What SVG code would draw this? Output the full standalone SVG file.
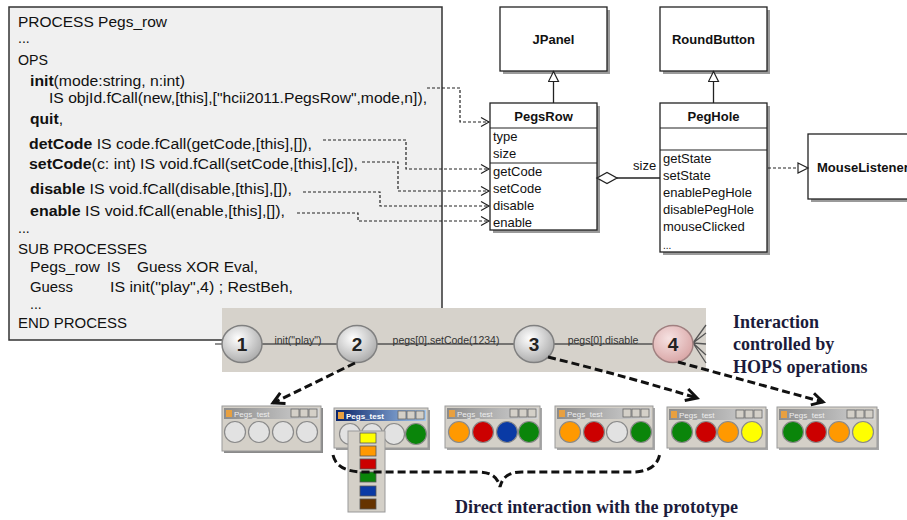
<svg xmlns="http://www.w3.org/2000/svg" width="907" height="520" viewBox="0 0 907 520">
<defs>
<style>
.code{font-family:"Liberation Sans",Arial,sans-serif;font-size:14px;fill:#111}
.b{font-weight:bold}
.uml{font-family:"Liberation Sans",Arial,sans-serif;font-size:13px;fill:#111}
.ub{font-weight:bold}
.box{fill:#fff;stroke:#222;stroke-width:1.3}
.shd{fill:#9a9a9a}
.div{stroke:#222;stroke-width:1.2}
.dep{fill:none;stroke:#222;stroke-width:1.2;stroke-dasharray:3 2}
.big{fill:none;stroke:#111;stroke-width:3;stroke-dasharray:8 4}
.note{font-family:"Liberation Serif","Times New Roman",serif;font-weight:bold;font-size:18px;fill:#1b1b3b}
.edge{stroke:#555;stroke-width:1.3;fill:none}
.lbl{font-family:"Liberation Sans",Arial,sans-serif;font-size:10.5px;fill:#333}
.num{font-family:"Liberation Sans",Arial,sans-serif;font-size:19px;font-weight:bold;fill:#222}
.st{fill:url(#gGray);stroke:#808080;stroke-width:1.5}
.frame{fill:#d4d0c8;stroke:#9a9a9a;stroke-width:1}
.tb{fill:url(#gTitle)}
.tt{font-family:"Liberation Sans",Arial,sans-serif;font-size:8px;fill:#eeeeee}
.btn{fill:#d4d0c8;stroke:#666;stroke-width:0.8}
.pg{stroke:#8a8a8a;stroke-width:1.2}
.light{fill:#e2e2e2}
.green{fill:#0a850a}
.red{fill:#cc0000}
.orange{fill:#ff9900}
.yellow{fill:#ffff00}
.blue{fill:#0a3aa5}
.sw{stroke:#555;stroke-width:0.8}
</style>
<radialGradient id="gGray" cx="40%" cy="35%" r="70%">
<stop offset="0" stop-color="#ffffff"/>
<stop offset="1" stop-color="#a8a8a8"/>
</radialGradient>
<radialGradient id="gPink" cx="40%" cy="35%" r="70%">
<stop offset="0" stop-color="#f6e2e2"/>
<stop offset="1" stop-color="#d8a4a4"/>
</radialGradient>
<linearGradient id="gTitle" x1="0" y1="0" x2="1" y2="0">
<stop offset="0" stop-color="#8c8c8c"/>
<stop offset="1" stop-color="#d6d6d6"/>
</linearGradient>
<linearGradient id="gActive" x1="0" y1="0" x2="1" y2="0">
<stop offset="0" stop-color="#0a246a"/>
<stop offset="1" stop-color="#a6caf0"/>
</linearGradient>
<marker id="open" markerUnits="userSpaceOnUse" markerWidth="12" markerHeight="12" refX="9" refY="5" orient="auto">
<path d="M1,0.5 L9,5 L1,9.5" fill="none" stroke="#222" stroke-width="1.2"/>
</marker>
<marker id="tri" markerUnits="userSpaceOnUse" markerWidth="14" markerHeight="14" refX="11" refY="6" orient="auto">
<path d="M1,1 L11,6 L1,11 Z" fill="#fff" stroke="#222" stroke-width="1.2"/>
</marker>
<marker id="bigV" markerUnits="userSpaceOnUse" markerWidth="18" markerHeight="18" refX="13" refY="8" orient="auto">
<path d="M2,2 L13,8 L2,14" fill="none" stroke="#111" stroke-width="3"/>
</marker>
</defs>

<rect width="907" height="520" fill="#ffffff"/>

<g id="code">
<rect x="9" y="7" width="433" height="333" fill="#f0f0f0" stroke="#333" stroke-width="1.5"/>
<text class="code" x="18" y="27" textLength="149" lengthAdjust="spacingAndGlyphs">PROCESS Pegs_row</text>
<text class="code" x="18" y="43">...</text>
<text class="code" x="18" y="65" textLength="30" lengthAdjust="spacingAndGlyphs">OPS</text>
<text class="code" x="30" y="86" textLength="155" lengthAdjust="spacingAndGlyphs"><tspan class="b">init</tspan>(mode:string, n:int)</text>
<text class="code" x="49" y="103" textLength="378" lengthAdjust="spacingAndGlyphs">IS objId.fCall(new,[this],["hcii2011.PegsRow",mode,n]),</text>
<text class="code" x="30" y="124" textLength="33" lengthAdjust="spacingAndGlyphs"><tspan class="b">quit</tspan>,</text>
<text class="code" x="29" y="149" textLength="283" lengthAdjust="spacingAndGlyphs"><tspan class="b">detCode</tspan> IS code.fCall(getCode,[this],[]),</text>
<text class="code" x="29" y="169" textLength="329" lengthAdjust="spacingAndGlyphs"><tspan class="b">setCode</tspan>(c: int) IS void.fCall(setCode,[this],[c]),</text>
<text class="code" x="30" y="194" textLength="262" lengthAdjust="spacingAndGlyphs"><tspan class="b">disable</tspan> IS void.fCall(disable,[this],[]),</text>
<text class="code" x="30" y="216" textLength="255" lengthAdjust="spacingAndGlyphs"><tspan class="b">enable</tspan> IS void.fCall(enable,[this],[]),</text>
<text class="code" x="18" y="233">...</text>
<text class="code" x="18" y="254" textLength="129" lengthAdjust="spacingAndGlyphs">SUB PROCESSES</text>
<text class="code" x="30" y="272" textLength="70" lengthAdjust="spacingAndGlyphs">Pegs_row</text>
<text class="code" x="107" y="272">IS</text>
<text class="code" x="137" y="272" textLength="121" lengthAdjust="spacingAndGlyphs">Guess XOR Eval,</text>
<text class="code" x="30" y="292" textLength="43" lengthAdjust="spacingAndGlyphs">Guess</text>
<text class="code" x="110" y="292" textLength="183" lengthAdjust="spacingAndGlyphs">IS  init("play",4) ; RestBeh,</text>
<text class="code" x="30" y="309">...</text>
<text class="code" x="18" y="328" textLength="109" lengthAdjust="spacingAndGlyphs">END PROCESS</text>
</g>

<g id="JPanel">
<rect class="shd" x="503" y="10" width="107" height="64"/>
<rect class="box" x="500" y="7" width="107" height="64"/>
<text class="uml ub" x="553.5" y="44" text-anchor="middle">JPanel</text>
</g>
<g id="RoundButton">
<rect class="shd" x="663" y="10" width="107" height="64"/>
<rect class="box" x="660" y="7" width="107" height="64"/>
<text class="uml ub" x="713.5" y="44" text-anchor="middle">RoundButton</text>
</g>
<g id="PegsRow">
<rect class="shd" x="493" y="106" width="107" height="127"/>
<rect class="box" x="490" y="103" width="107" height="127"/>
<line class="div" x1="490" y1="128" x2="597" y2="128"/>
<line class="div" x1="490" y1="163" x2="597" y2="163"/>
<text class="uml ub" x="543.5" y="121" text-anchor="middle">PegsRow</text>
<text class="uml" x="493" y="141">type</text>
<text class="uml" x="493" y="158">size</text>
<text class="uml" x="493" y="176">getCode</text>
<text class="uml" x="493" y="193">setCode</text>
<text class="uml" x="493" y="210">disable</text>
<text class="uml" x="493" y="227">enable</text>
</g>
<g id="PegHole">
<rect class="shd" x="663" y="106" width="107" height="149"/>
<rect class="box" x="660" y="103" width="107" height="149"/>
<line class="div" x1="660" y1="128" x2="767" y2="128"/>
<line class="div" x1="660" y1="150" x2="767" y2="150"/>
<text class="uml ub" x="713.5" y="121" text-anchor="middle">PegHole</text>
<text class="uml" x="663" y="163">getState</text>
<text class="uml" x="663" y="180">setState</text>
<text class="uml" x="663" y="197">enablePegHole</text>
<text class="uml" x="663" y="214">disablePegHole</text>
<text class="uml" x="663" y="231">mouseClicked</text>
<text class="uml" x="663" y="249" style="font-size:10px">...</text>
</g>
<g id="MouseListener">
<rect class="shd" x="811" y="137" width="110" height="65"/>
<rect class="box" x="808" y="134" width="110" height="65"/>
<text class="uml ub" x="817" y="172">MouseListener</text>
</g>

<g id="uml-connectors">
<line x1="553.5" y1="103" x2="553.5" y2="71.5" stroke="#222" stroke-width="1.3" marker-end="url(#tri)"/>
<line x1="713.5" y1="103" x2="713.5" y2="71.5" stroke="#222" stroke-width="1.3" marker-end="url(#tri)"/>
<line x1="617" y1="178" x2="660" y2="178" stroke="#222" stroke-width="1.3"/>
<path d="M597,178 L607,172.5 L617,178 L607,183.5 Z" fill="#fff" stroke="#222" stroke-width="1.3"/>
<text class="uml" x="633" y="170">size</text>
<path d="M768,168 L808,168" class="dep" stroke-dasharray="4 3" marker-end="url(#tri)"/>
</g>

<g id="code-connectors">
<path class="dep" d="M427,88 H460 V122 H489" marker-end="url(#open)"/>
<path class="dep" d="M323,140 H406 V169 H489" marker-end="url(#open)"/>
<path class="dep" d="M362,162 H398 V191 H489" marker-end="url(#open)"/>
<path class="dep" d="M303,192 H380 V206 H489" marker-end="url(#open)"/>
<path class="dep" d="M297,213 H358 V221 H489" marker-end="url(#open)"/>
</g>

<g id="statebar">
<rect x="222" y="308" width="484" height="64" fill="#d6d2cb"/>
</g>
<g id="state-edges">
<line class="edge" x1="215" y1="344" x2="222" y2="344"/>
<line class="edge" x1="262" y1="344" x2="337" y2="344"/>
<line class="edge" x1="377" y1="344" x2="514" y2="344"/>
<line class="edge" x1="554" y1="344" x2="653" y2="344"/>
<path class="edge" d="M693,343 L706,325 M693,343 L706,333 M693,343 L706,344 M693,343 L706,355 M693,343 L706,363"/>
<text class="lbl" x="298" y="344" text-anchor="middle">init("play")</text>
<text class="lbl" x="446" y="344" text-anchor="middle">pegs[0].setCode(1234)</text>
<text class="lbl" x="603" y="344" text-anchor="middle">pegs[0].disable</text>
</g>
<g id="s1"><ellipse class="st" cx="242" cy="344" rx="20" ry="18.5"/><text class="num" x="242" y="351" text-anchor="middle">1</text></g>
<g id="s2"><ellipse class="st" cx="357" cy="344" rx="20" ry="18.5"/><text class="num" x="357" y="351" text-anchor="middle">2</text></g>
<g id="s3"><ellipse class="st" cx="534" cy="344" rx="20" ry="18.5"/><text class="num" x="534" y="351" text-anchor="middle">3</text></g>
<g id="s4"><ellipse cx="673" cy="344" rx="20" ry="18.5" fill="url(#gPink)" stroke="#a08080" stroke-width="1.5"/><text class="num" x="673" y="351" text-anchor="middle">4</text></g>

<g id="note-hops">
<text class="note" x="733" y="328">Interaction</text>
<text class="note" x="733" y="350">controlled by</text>
<text class="note" x="733" y="373">HOPS operations</text>
</g>

<g id="win1" transform="translate(222,406)">
<rect x="2" y="2" width="99" height="45" fill="#8a8a8a"/>
<rect class="frame" x="0" y="0" width="99" height="45"/>
<rect class="tb" x="2" y="2" width="95" height="11"/>
<rect x="4" y="4" width="6" height="7" fill="#e8a040"/>
<text class="tt" x="12" y="10.5">Pegs_test</text>
<rect class="btn" x="69" y="3" width="8" height="8"/><rect class="btn" x="78" y="3" width="8" height="8"/><rect class="btn" x="87" y="3" width="8" height="8"/>
<circle class="pg light" cx="13" cy="26" r="10.5"/><circle class="pg light" cx="37" cy="26" r="10.5"/><circle class="pg light" cx="61" cy="26" r="10.5"/><circle class="pg light" cx="85" cy="26" r="10.5"/>
</g>
<g id="win2" transform="translate(334,408)">
<rect x="2" y="2" width="94" height="40" fill="#9a9a9a"/>
<rect class="frame" x="0" y="0" width="94" height="40"/>
<rect x="2" y="2" width="90" height="11" fill="url(#gActive)"/>
<rect x="4" y="4" width="6" height="7" fill="#e8a040"/>
<text class="tt" x="12" y="10.5" style="fill:#fff;font-weight:bold">Pegs_test</text>
<rect class="btn" x="64" y="3" width="8" height="8"/><rect class="btn" x="73" y="3" width="8" height="8"/><rect class="btn" x="82" y="3" width="8" height="8"/>
<circle class="pg light" cx="16" cy="26" r="10.5"/><circle class="pg light" cx="38" cy="26" r="10.5"/><circle class="pg light" cx="60" cy="26" r="10.5"/><circle class="pg green" cx="82" cy="26" r="10.5"/>
</g>
<g id="popup">
<rect x="348" y="431" width="37" height="81" fill="#d4d0c8" stroke="#999" stroke-width="1"/>
<rect class="sw yellow" x="360" y="433" width="16" height="10"/>
<rect class="sw orange" x="360" y="446" width="16" height="10"/>
<rect class="sw red" x="360" y="459" width="16" height="10"/>
<rect class="sw green" x="360" y="472" width="16" height="10"/>
<rect class="sw blue" x="360" y="486" width="16" height="10"/>
<rect class="sw" x="360" y="499" width="16" height="10" fill="#663300"/>
</g>
<g id="win3" transform="translate(445,406)">
<rect x="2" y="2" width="95" height="42" fill="#a8a8a8"/>
<rect class="frame" x="0" y="0" width="95" height="42"/>
<rect class="tb" x="2" y="2" width="91" height="11"/>
<rect x="4" y="4" width="6" height="7" fill="#e8a040"/>
<text class="tt" x="12" y="10.5">Pegs_test</text>
<rect class="btn" x="65" y="3" width="8" height="8"/><rect class="btn" x="74" y="3" width="8" height="8"/><rect class="btn" x="83" y="3" width="8" height="8"/>
<circle class="pg orange" cx="14" cy="26" r="10.5"/><circle class="pg red" cx="38" cy="26" r="10.5"/><circle class="pg blue" cx="62" cy="26" r="10.5"/><circle class="pg green" cx="84" cy="26" r="10.5"/>
</g>
<g id="win4" transform="translate(555,406)">
<rect x="2" y="2" width="98" height="42" fill="#a8a8a8"/>
<rect class="frame" x="0" y="0" width="98" height="42"/>
<rect class="tb" x="2" y="2" width="94" height="11"/>
<rect x="4" y="4" width="6" height="7" fill="#e8a040"/>
<text class="tt" x="12" y="10.5">Pegs_test</text>
<rect class="btn" x="68" y="3" width="8" height="8"/><rect class="btn" x="77" y="3" width="8" height="8"/><rect class="btn" x="86" y="3" width="8" height="8"/>
<circle class="pg orange" cx="15" cy="26" r="10.5"/><circle class="pg red" cx="39" cy="26" r="10.5"/><circle class="pg light" cx="62" cy="26" r="10.5"/><circle class="pg green" cx="86" cy="26" r="10.5"/>
</g>
<g id="win5" transform="translate(667,407)">
<rect x="2" y="2" width="99" height="41" fill="#a8a8a8"/>
<rect class="frame" x="0" y="0" width="99" height="41"/>
<rect class="tb" x="2" y="2" width="95" height="11"/>
<rect x="4" y="4" width="6" height="7" fill="#e8a040"/>
<text class="tt" x="12" y="10.5">Pegs_test</text>
<rect class="btn" x="69" y="3" width="8" height="8"/><rect class="btn" x="78" y="3" width="8" height="8"/><rect class="btn" x="87" y="3" width="8" height="8"/>
<circle class="pg green" cx="15" cy="25" r="10.5"/><circle class="pg red" cx="39" cy="25" r="10.5"/><circle class="pg orange" cx="61" cy="25" r="10.5"/><circle class="pg yellow" cx="85" cy="25" r="10.5"/>
</g>
<g id="win6" transform="translate(777,407)">
<rect x="2" y="2" width="100" height="41" fill="#a8a8a8"/>
<rect class="frame" x="0" y="0" width="100" height="41"/>
<rect class="tb" x="2" y="2" width="96" height="11"/>
<rect x="4" y="4" width="6" height="7" fill="#e8a040"/>
<text class="tt" x="12" y="10.5">Pegs_test</text>
<rect class="btn" x="70" y="3" width="8" height="8"/><rect class="btn" x="79" y="3" width="8" height="8"/><rect class="btn" x="88" y="3" width="8" height="8"/>
<circle class="pg green" cx="16" cy="25" r="10.5"/><circle class="pg red" cx="39" cy="25" r="10.5"/><circle class="pg orange" cx="62" cy="25" r="10.5"/><circle class="pg yellow" cx="86" cy="25" r="10.5"/>
</g>

<g id="interaction-connectors">
<path class="big" d="M355,363 L273,403" marker-end="url(#bigV)"/>
<path class="big" d="M548,357 Q625,376 697,398" marker-end="url(#bigV)"/>
<path class="big" d="M678,362 L823,402" marker-end="url(#bigV)"/>
<path class="big" stroke-width="2.5" d="M333,455 C336,468 348,472 365,472 L478,472 C492,472 498,478 500,487 C502,478 508,472 522,472 L632,472 C650,472 658,465 660,453"/>
</g>

<g id="note-direct">
<text class="note" x="455" y="513" textLength="283" lengthAdjust="spacingAndGlyphs">Direct interaction with the prototype</text>
</g>
</svg>
